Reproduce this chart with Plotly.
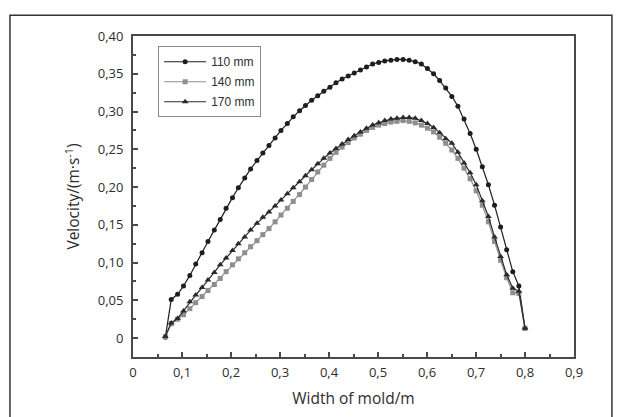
import plotly.graph_objects as go

# Width of mold (m), shared sampling positions
width_m = [0.066, 0.078, 0.091, 0.103, 0.116, 0.128, 0.141, 0.153, 0.166, 0.178,
           0.190, 0.203, 0.215, 0.228, 0.240, 0.253, 0.265, 0.2775, 0.290, 0.302,
           0.315, 0.327, 0.340, 0.352, 0.3646, 0.377, 0.3894, 0.4019, 0.4143, 0.4268,
           0.4392, 0.4516, 0.4641, 0.4765, 0.489, 0.5014, 0.5138, 0.5263, 0.5387, 0.5512,
           0.5636, 0.576, 0.5885, 0.6009, 0.6134, 0.6258, 0.6382, 0.6507, 0.6631, 0.6756,
           0.688, 0.7004, 0.7129, 0.7253, 0.7378, 0.7502, 0.7626, 0.7751, 0.7875, 0.800]

v_110 = [0.001, 0.051, 0.058, 0.069, 0.083, 0.098, 0.113, 0.128, 0.143, 0.157,
         0.172, 0.186, 0.199, 0.212, 0.224, 0.235, 0.245, 0.255, 0.265, 0.275,
         0.284, 0.293, 0.301, 0.308, 0.315, 0.321, 0.327, 0.332, 0.338, 0.343,
         0.347, 0.351, 0.355, 0.359, 0.363, 0.365, 0.367, 0.368, 0.369, 0.369,
         0.368, 0.366, 0.363, 0.357, 0.350, 0.341, 0.331, 0.320, 0.307, 0.290,
         0.271, 0.250, 0.227, 0.203, 0.176, 0.147, 0.117, 0.088, 0.069, 0.013]

v_140 = [0.002, 0.019, 0.025, 0.031, 0.039, 0.047, 0.055, 0.063, 0.071, 0.079,
         0.088, 0.097, 0.105, 0.113, 0.121, 0.129, 0.137, 0.145, 0.154, 0.163,
         0.172, 0.181, 0.190, 0.200, 0.210, 0.220, 0.229, 0.238, 0.246, 0.253,
         0.259, 0.265, 0.270, 0.275, 0.279, 0.282, 0.284, 0.286, 0.287, 0.288,
         0.287, 0.285, 0.282, 0.278, 0.273, 0.266, 0.258, 0.249, 0.238, 0.225,
         0.211, 0.195, 0.176, 0.154, 0.128, 0.103, 0.080, 0.060, 0.059, 0.013]

v_170 = [0.002, 0.020, 0.026, 0.036, 0.048, 0.057, 0.067, 0.077, 0.087, 0.097,
         0.106, 0.116, 0.125, 0.134, 0.143, 0.152, 0.160, 0.167, 0.175, 0.183,
         0.191, 0.199, 0.207, 0.215, 0.223, 0.231, 0.238, 0.245, 0.251, 0.257,
         0.263, 0.268, 0.273, 0.278, 0.282, 0.285, 0.288, 0.290, 0.291, 0.292,
         0.292, 0.291, 0.288, 0.284, 0.279, 0.272, 0.264, 0.258, 0.246, 0.232,
         0.219, 0.203, 0.182, 0.161, 0.134, 0.108, 0.084, 0.066, 0.062, 0.013]

series_names = ["110 mm", "140 mm", "170 mm"]

x_tickvals = [0, 0.1, 0.2, 0.3, 0.4, 0.5, 0.6, 0.7, 0.8, 0.9]
x_ticktext = ["0", "0,1", "0,2", "0,3", "0,4", "0,5", "0,6", "0,7", "0,8", "0,9"]
y_tickvals = [0, 0.05, 0.10, 0.15, 0.20, 0.25, 0.30, 0.35, 0.40]
y_ticktext = ["0", "0,05", "0,10", "0,15", "0,20", "0,25", "0,30", "0,35", "0,40"]

fig = go.Figure()
fig.add_trace(go.Scatter(x=width_m, y=v_110, name=series_names[0], mode="lines+markers",
                         legendgroup="a",
                         line=dict(color="#1e1e1e", width=1.2),
                         marker=dict(symbol="circle", size=5, color="#1e1e1e")))
fig.add_trace(go.Scatter(x=width_m, y=v_140, name=series_names[1], mode="lines+markers",
                         legendgroup="b",
                         line=dict(color="#8e8e8e", width=1.2),
                         marker=dict(symbol="square", size=5, color="#8e8e8e")))
fig.add_trace(go.Scatter(x=width_m, y=v_170, name=series_names[2], mode="lines+markers",
                         legendgroup="c",
                         line=dict(color="#2a2a2a", width=1.2),
                         marker=dict(symbol="triangle-up", size=6, color="#2a2a2a")))

axis_color = "#4a4a4a"
text_color = "#2e2e2e"

fig.update_layout(
    width=617, height=417,
    margin=dict(l=133, r=43, t=36, b=60),
    paper_bgcolor="white", plot_bgcolor="white",
    font=dict(family="Open Sans, sans-serif", color=text_color, size=13),
    showlegend=True,
    legend=dict(x=0.057, y=0.968, xanchor="left", yanchor="top",
                bordercolor="#8a8a8a", borderwidth=1, bgcolor="white",
                font=dict(family="Liberation Sans, Arial, sans-serif", size=12, color=text_color),
                itemwidth=42, traceorder="grouped", tracegroupgap=1),
    xaxis=dict(range=[0, 0.9], tickvals=x_tickvals, ticktext=x_ticktext,
               showgrid=False, zeroline=False, showline=True, mirror=True,
               linecolor=axis_color, linewidth=2,
               ticks="inside", ticklen=5, tickcolor=axis_color, tickwidth=1.5,
               minor=dict(ticks="inside", ticklen=3, dtick=0.05, tickcolor=axis_color, tickwidth=1.5),
               ticklabelstandoff=2,
               tickfont=dict(size=13, color=text_color),
               title=dict(text="Width of mold/m", font=dict(size=15.5, color=text_color), standoff=14)),
    yaxis=dict(range=[-0.025, 0.40], tickvals=y_tickvals, ticktext=y_ticktext,
               showgrid=False, zeroline=False, showline=True, mirror=True,
               linecolor=axis_color, linewidth=2,
               ticks="inside", ticklen=5, tickcolor=axis_color, tickwidth=1.5,
               minor=dict(ticks="inside", ticklen=3, dtick=0.025, tickcolor=axis_color, tickwidth=1.5),
               ticklabelstandoff=5,
               tickfont=dict(size=13, color=text_color),
               title=dict(text="Velocity/(m·s<sup>-1</sup>)", font=dict(size=15.5, color=text_color), standoff=14)),
    shapes=[dict(type="rect", xref="paper", yref="paper",
                 x0=-0.279, x1=1.086, y0=-0.25, y1=1.065,
                 line=dict(color="#333333", width=1.5), fillcolor="rgba(0,0,0,0)", layer="below")],
)

fig.write_html("out.html", config={"displayModeBar": False},
               post_script="document.body.style.margin='0px';document.body.style.overflow='hidden';")
